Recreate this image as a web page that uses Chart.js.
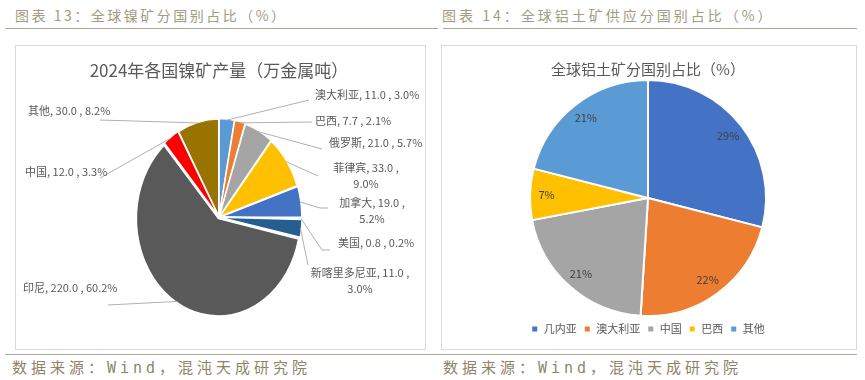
<!DOCTYPE html>
<html><head><meta charset="utf-8">
<script src="https://cdn.jsdelivr.net/npm/chart.js@4.4.1/dist/chart.umd.min.js"></script>
<style>
body{margin:0;width:865px;height:380px;background:#fff;position:relative;overflow:hidden;font-family:"Noto Sans CJK SC",sans-serif}
.hdr{position:absolute;top:5px;font-size:14px;color:#a59a82;white-space:nowrap;line-height:20px}
.ftr{position:absolute;top:359px;font-size:15px;color:#8f8468;white-space:nowrap;line-height:18px;letter-spacing:4px;font-family:"DejaVu Sans Mono","Noto Sans CJK SC",monospace}
.rule{position:absolute;height:0;border-top:1.5px solid #b2a993}
.box{position:absolute;top:45px;height:303px;border:1px solid #d9d9d9}
canvas{display:block}
</style></head>
<body>
<div class="hdr" style="left:15px;letter-spacing:2.5px">图表 13：全球镍矿分国别占比（%）</div>
<div class="hdr" style="left:442px;letter-spacing:3px">图表 14：全球铝土矿供应分国别占比（%）</div>
<div class="rule" style="left:5px;top:28px;width:433px"></div>
<div class="rule" style="left:443px;top:28px;width:414px"></div>
<div class="box" style="left:15px;width:409px"><canvas id="c1" width="409" height="303"></canvas></div>
<div class="box" style="left:441px;width:414px"><canvas id="c2" width="414" height="303"></canvas></div>
<div class="rule" style="left:5px;top:354px;width:852px"></div>
<div class="ftr" style="left:12px">数据来源：Wind，混沌天成研究院</div>
<div class="ftr" style="left:443px">数据来源：Wind，混沌天成研究院</div>
<script>
// ---- data ----
const nickelCountries = ['澳大利亚','巴西','俄罗斯','菲律宾','加拿大','美国','新喀里多尼亚','印尼','中国','其他'];
const nickelOutput = [11.0, 7.7, 21.0, 33.0, 19.0, 0.8, 11.0, 220.0, 12.0, 30.0];
const nickelShare = [3.0, 2.1, 5.7, 9.0, 5.2, 0.2, 3.0, 60.2, 3.3, 8.2];
const bauxiteCountries = ['几内亚','澳大利亚','中国','巴西','其他'];
const bauxiteShare = [29, 22, 21, 7, 21];

// ---- styles / layout ----
const nickelColors = ['#5b9bd5','#ed7d31','#a5a5a5','#ffc000','#4472c4','#a9d3ee','#255e91','#595959','#ff0000','#997300'];
const bauxiteColors = ['#4472c4','#ed7d31','#a5a5a5','#ffc000','#5b9bd5'];
// label text placement (canvas px) and leader line start points
const nickelLabelLayout = [
  {x:299, y:49,  align:'left',   wrap:false, from:[293,54]},
  {x:299, y:75,  align:'left',   wrap:false, from:[296,76]},
  {x:313, y:97,  align:'left',   wrap:false, from:[306,103]},
  {x:350, y:122, align:'center', wrap:true,  from:[302,130]},
  {x:356, y:157, align:'center', wrap:true,  from:[312,162], bend:[304,162]},
  {x:322, y:197, align:'left',   wrap:false, from:[314,204], bend:[306,204]},
  {x:344, y:227, align:'center', wrap:true,  from:[292,219]},
  {x:7,   y:242, align:'left',   wrap:false, from:[92,259]},
  {x:9,   y:126, align:'left',   wrap:false, from:[84,132]},
  {x:12,  y:65,  align:'left',   wrap:false, from:[84,74]}
];
const SX = 0.84; // horizontal squash of the nickel pie as in the reference
const FONT = '"Noto Sans CJK SC", sans-serif';
Chart.defaults.font.family = FONT;

const ellipsePlugin = {
  id:'ellipse',
  beforeDatasetDraw(chart, args){
    const a = chart.getDatasetMeta(args.index).data[0];
    const ctx = chart.ctx;
    ctx.save(); ctx.translate(a.x, a.y); ctx.scale(SX, 1); ctx.translate(-a.x, -a.y);
  },
  afterDatasetDraw(chart){ chart.ctx.restore(); }
};

const leaderPlugin = {
  id:'leaders',
  afterDatasetsDraw(chart){
    const ctx = chart.ctx;
    const meta = chart.getDatasetMeta(0);
    ctx.save();
    ctx.font = '11px ' + FONT;
    ctx.fillStyle = '#595959';
    ctx.textBaseline = 'middle';
    meta.data.forEach((arc, i) => {
      const L = nickelLabelLayout[i];
      const p = arc.getProps(['x','y','startAngle','endAngle','outerRadius'], true);
      const off = (arc.options.offset || 0) / 4;
      const mid = (p.startAngle + p.endAngle) / 2;
      const r = p.outerRadius + off;
      const ax = p.x + SX * r * Math.cos(mid), ay = p.y + r * Math.sin(mid);
      ctx.strokeStyle = '#b0b0b0'; ctx.lineWidth = 1;
      ctx.beginPath(); ctx.moveTo(L.from[0], L.from[1]);
      if (L.bend) ctx.lineTo(L.bend[0], L.bend[1]);
      ctx.lineTo(ax, ay); ctx.stroke();
      const head = nickelCountries[i] + ', ' + nickelOutput[i].toFixed(1) + ' ,';
      const tail = nickelShare[i].toFixed(1) + '%';
      ctx.textAlign = L.align;
      if (L.wrap) { ctx.fillText(head, L.x, L.y); ctx.fillText(tail, L.x, L.y + 16); }
      else ctx.fillText(head + ' ' + tail, L.x, L.y);
    });
    ctx.restore();
  }
};

const pctPlugin = {
  id:'pct',
  afterDatasetsDraw(chart){
    const ctx = chart.ctx;
    const meta = chart.getDatasetMeta(0);
    ctx.save();
    ctx.font = '11px ' + FONT; ctx.fillStyle = '#404040';
    ctx.textAlign = 'center'; ctx.textBaseline = 'middle';
    meta.data.forEach((arc, i) => {
      const p = arc.getProps(['x','y','startAngle','endAngle','outerRadius'], true);
      const mid = (p.startAngle + p.endAngle) / 2;
      const r = p.outerRadius * 0.86;
      ctx.fillText(bauxiteShare[i] + '%', p.x + r * Math.cos(mid), p.y + r * Math.sin(mid));
    });
    ctx.restore();
  }
};

new Chart(document.getElementById('c1'), {
  type:'pie',
  data:{ labels:nickelCountries, datasets:[{ data:nickelOutput, backgroundColor:nickelColors, borderColor:'#ffffff', borderWidth:1.5, offset:6 }] },
  options:{
    responsive:false, animation:false, events:[],
    radius:96,
    layout:{ padding:{left:0, right:3, top:0, bottom:0} },
    plugins:{
      legend:{display:false}, tooltip:{enabled:false},
      title:{ display:true, text:'2024年各国镍矿产量（万金属吨）', color:'#595959', font:{size:17, weight:'normal', family:FONT}, padding:{top:14, bottom:5} }
    }
  },
  plugins:[ellipsePlugin, leaderPlugin]
});

new Chart(document.getElementById('c2'), {
  type:'pie',
  data:{ labels:bauxiteCountries, datasets:[{ data:bauxiteShare, backgroundColor:bauxiteColors, borderColor:'#ffffff', borderWidth:2 }] },
  options:{
    responsive:false, animation:false, events:[],
    radius:118,
    layout:{ padding:{left:0, right:2, top:0, bottom:4.5} },
    plugins:{
      tooltip:{enabled:false},
      title:{ display:true, text:'全球铝土矿分国别占比（%）', color:'#595959', font:{size:15, weight:'normal', family:FONT}, padding:{top:14, bottom:1.5} },
      legend:{ position:'bottom', labels:{ boxWidth:7, boxHeight:7, padding:7, color:'#595959', font:{size:11, family:FONT} } }
    }
  },
  plugins:[pctPlugin]
});
</script>
</body></html>
